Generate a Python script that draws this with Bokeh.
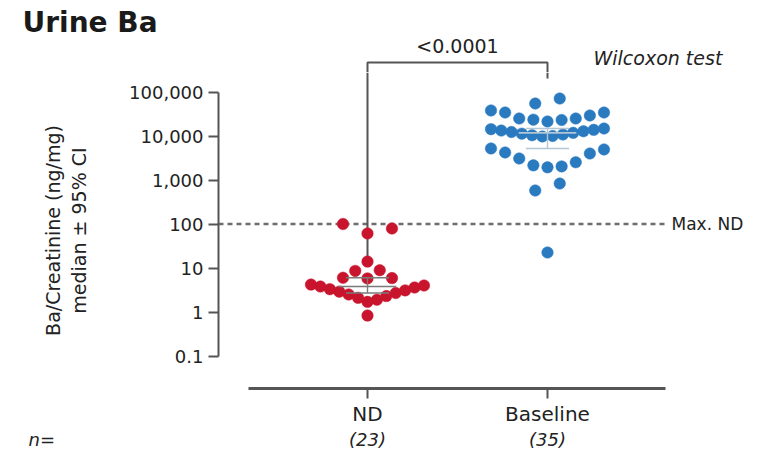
import numpy as np
from bokeh.plotting import figure
from bokeh.layouts import column
from bokeh.models import FixedTicker, Label, Range1d
from bokeh.embed import file_html
from bokeh.resources import INLINE

# ---------------- data ----------------
chart_title = "Urine Ba"
categories = ["ND", "Baseline"]
n_labels = ["(23)", "(35)"]
nd_values = [100, 79, 61, 14, 8.9, 8.6, 6.0, 5.9, 5.8,
             4.2, 4.0, 3.8, 3.6, 3.3, 3.1, 2.9, 2.7, 2.5, 2.3, 2.1, 1.9, 1.7, 0.83]
baseline_values = [71100, 54800,
                   38000, 34200, 34200, 29200, 25000, 25000, 23500, 23100, 21400,
                   14800, 14300, 13800, 13300, 12800, 12300, 11800, 11300, 10800,
                   10400, 10000, 9750,
                   5200, 4940, 4220, 4000, 3080, 2530, 2150, 2040, 1940,
                   832, 577, 22.5]
nd_ci = [2.7, 6.0]
baseline_ci = [5200, 14800]
y_ticks = [0.1, 1, 10, 100, 1000, 10000, 100000]
y_tick_labels = ["0.1", "1", "10", "100", "1,000", "10,000", "100,000"]
max_nd = 100
p_value_text = "<0.0001"
test_text = "Wilcoxon test"
y_label = "Ba/Creatinine (ng/mg)\nmedian \u00b1 95% CI"

# ---------------- geometry (page pixels) ----------------
W = 767
HEAD_H, MAIN_H, FOOT_H = 72, 356, 28          # 72 + 356 + 28 = 456
F_LEFT, F_RIGHT = 218, 767
F_TOP, F_BOTTOM = HEAD_H, 388
PX_DEC = 44.0
Y_ONE = 311.5
PX_CAT = 180.0
ND_PX = 367.0
BRACKET_TOP = 62

def ydata(py):
    return 10 ** ((Y_ONE - py) / PX_DEC)

def xdata(px):
    return 1 + (px - ND_PX) / PX_CAT

x_start, x_end = xdata(F_LEFT), xdata(F_RIGHT)
y_start, y_end = ydata(F_BOTTOM), ydata(F_TOP)

FONT = "DejaVu Sans"
TXT = "#222222"
AX = "#555555"
BR = "#555555"
RED = "#c8142c"
BLUE = "#2a7ac0"


def scatter_offsets(values, gap=6.0, solo=12.0, span=113.0, cap=24.5):
    """Row-wise dot-plot layout: values close in (log) height share a row,
    smallest in the middle, the rest alternating outward."""
    ys = np.log10(np.asarray(values, float)) * PX_DEC
    order = list(np.argsort(ys, kind="stable"))
    rows, cur = [], [order[0]]
    for a, b in zip(order[:-1], order[1:]):
        g = ys[b] - ys[a]
        if g < gap or (len(cur) == 1 and g < solo):
            cur.append(b)
        else:
            rows.append(cur)
            cur = [b]
    rows.append(cur)
    offs = np.zeros(len(ys))
    for r in rows:
        n = len(r)
        if n == 1:
            continue
        s = min(cap, span / (n - 1))
        if n % 2:
            slots = [0.0]
            for k in range(1, n):
                m = (k + 1) // 2
                slots.append(m * s if k % 2 else -m * s)
        else:
            slots = []
            for k in range(n):
                m = k // 2 + 0.5
                slots.append(-m * s if k % 2 == 0 else m * s)
        for idx, sl in zip(r, slots):
            offs[idx] = sl
    return offs / PX_CAT


def strip(height):
    f = figure(width=W, height=height, output_backend="svg", toolbar_location=None,
               x_range=Range1d(xdata(0), xdata(W)), y_range=Range1d(height, 0),
               x_axis_location=None, y_axis_location=None,
               min_border=0, min_border_left=0, min_border_right=0,
               min_border_top=0, min_border_bottom=0, frame_align=False)
    f.grid.visible = False
    f.outline_line_color = None
    f.background_fill_color = "white"
    f.border_fill_color = "white"
    return f


# ---------------- header: title, test annotation, top of bracket ----------------
head = strip(HEAD_H)
head.add_layout(Label(x=xdata(22), y=22, text=chart_title, text_font=FONT,
                      text_font_size="28px", text_font_style="bold",
                      text_color="#1a1a1a", text_baseline="middle"))
head.add_layout(Label(x=1.5, y=45, text=p_value_text, text_font=FONT,
                      text_font_size="19px", text_color=TXT, text_align="center",
                      text_baseline="middle"))
head.add_layout(Label(x=xdata(593), y=57, text=test_text, text_font=FONT,
                      text_font_size="19px", text_font_style="italic",
                      text_color=TXT, text_baseline="middle"))
head.line([1, 1, 2, 2], [HEAD_H + 2, BRACKET_TOP, BRACKET_TOP, HEAD_H + 2],
          line_color=BR, line_width=2)

# ---------------- main plot ----------------
p = figure(width=W, height=MAIN_H, output_backend="svg", toolbar_location=None,
           y_axis_type="log", frame_align=False,
           x_range=Range1d(x_start, x_end), y_range=Range1d(y_start, y_end),
           min_border_left=F_LEFT, min_border_right=W - F_RIGHT,
           min_border_bottom=HEAD_H + MAIN_H - F_BOTTOM, min_border_top=0)
p.grid.visible = False
p.outline_line_color = None
p.background_fill_color = "white"
p.border_fill_color = "white"

ya = p.yaxis[0]
ya.ticker = FixedTicker(ticks=y_ticks, minor_ticks=[])
ya.major_label_overrides = {t: l for t, l in zip(y_ticks, y_tick_labels)}
ya.bounds = (y_ticks[0], y_ticks[-1])
ya.axis_line_width = 2
ya.axis_line_color = AX
ya.major_tick_line_color = AX
ya.major_tick_line_width = 2
ya.major_tick_out = 10
ya.major_tick_in = 0
ya.minor_tick_line_color = None
ya.major_label_text_font = FONT
ya.major_label_text_font_size = "18px"
ya.major_label_text_color = TXT
ya.major_label_standoff = 5
ya.axis_label = y_label
ya.axis_label_text_font = FONT
ya.axis_label_text_font_size = "19px"
ya.axis_label_text_font_style = "normal"
ya.axis_label_text_color = TXT
ya.axis_label_standoff = 36

cat_pos = [1, 2]
xa = p.xaxis[0]
xa.ticker = FixedTicker(ticks=cat_pos, minor_ticks=[])
xa.major_label_overrides = {c: l for c, l in zip(cat_pos, categories)}
xa.bounds = (xdata(248), xdata(665))
xa.axis_line_width = 3
xa.axis_line_color = AX
xa.major_tick_line_color = AX
xa.major_tick_line_width = 2
xa.major_tick_out = 10
xa.major_tick_in = 0
xa.minor_tick_line_color = None
xa.major_label_text_font = FONT
xa.major_label_text_font_size = "20px"
xa.major_label_text_line_height = 1.0
xa.major_label_text_color = TXT
xa.major_label_standoff = 3

# dashed threshold
p.line([x_start, xdata(665)], [max_nd, max_nd], line_color="#6e6e6e",
       line_width=2.5, line_dash="5 4")
p.add_layout(Label(x=xdata(671), y=max_nd, text="Max. ND", text_font=FONT,
                   text_font_size="17px", text_color=TXT, text_baseline="middle"))

# significance bracket legs (top part is in the header)
p.line([1, 1], [ydata(265), y_end], line_color=BR, line_width=2)
p.line([2, 2], [ydata(78), y_end], line_color=BR, line_width=2)

# points with median and 95% CI
groups = [(nd_values, RED, nd_ci, "#7a7a7a"), (baseline_values, BLUE, baseline_ci, "#b3c6d6")]
for k, (vals, col, ci, lc) in enumerate(groups):
    cx = cat_pos[k]
    xs = cx + scatter_offsets(vals)
    p.scatter(xs, vals, size=11.5, fill_color=col, line_color=col, line_width=0.5)
    med = float(np.median(vals))
    p.segment(x0=[cx - 0.16], x1=[cx + 0.16], y0=[med], y1=[med],
              line_color=lc, line_width=1.6)
    p.segment(x0=[cx - 0.12, cx - 0.12, cx], x1=[cx + 0.12, cx + 0.12, cx],
              y0=[ci[0], ci[1], ci[0]], y1=[ci[0], ci[1], ci[1]],
              line_color=lc, line_width=1.4)

# ---------------- footer (n row) ----------------
foot = strip(FOOT_H)
row_y = 439 - (HEAD_H + MAIN_H)
foot.add_layout(Label(x=xdata(28), y=row_y, text="n=", text_font=FONT,
                      text_font_size="18px", text_font_style="italic",
                      text_color=TXT, text_baseline="middle"))
for k, lab in enumerate(n_labels):
    foot.add_layout(Label(x=cat_pos[k], y=row_y, text=lab, text_font=FONT,
                          text_font_size="18px", text_font_style="italic",
                          text_color=TXT, text_align="center", text_baseline="middle"))

layout = column(head, p, foot, spacing=0)
open("out.html", "w").write(file_html(layout, INLINE))
